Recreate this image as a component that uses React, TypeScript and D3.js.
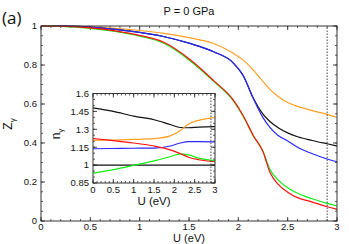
import React, { useEffect, useRef } from "react";
import * as d3 from "d3";

// main panel: Z_gamma vs U
const uMain = [0, 0.25, 0.5, 0.75, 1, 1.25, 1.5, 1.75, 1.95, 2.05, 2.15, 2.25, 2.32, 2.4, 2.5, 2.6, 2.75, 2.9, 3];
const zOrange = [1, 0.999, 0.996, 0.988, 0.977, 0.962, 0.94, 0.91, 0.86, 0.825, 0.775, 0.715, 0.675, 0.64, 0.608, 0.588, 0.566, 0.547, 0.532];
const zBlue = [1, 0.999, 0.994, 0.983, 0.967, 0.945, 0.912, 0.868, 0.81, 0.745, 0.63, 0.53, 0.48, 0.44, 0.41, 0.378, 0.345, 0.318, 0.304];
const zBlack = [1, 0.999, 0.994, 0.983, 0.967, 0.945, 0.912, 0.868, 0.81, 0.745, 0.632, 0.548, 0.51, 0.48, 0.452, 0.432, 0.413, 0.396, 0.385];
const zRed = [1, 0.998, 0.99, 0.975, 0.952, 0.915, 0.832, 0.72, 0.62, 0.54, 0.44, 0.355, 0.25, 0.19, 0.148, 0.12, 0.097, 0.073, 0.06];
const zGreen = [1, 0.997, 0.988, 0.972, 0.948, 0.91, 0.826, 0.716, 0.616, 0.536, 0.438, 0.358, 0.265, 0.212, 0.17, 0.142, 0.114, 0.09, 0.077];

// inset: n_gamma vs U
const uInset = [0, 0.5, 1, 1.5, 1.9, 2.15, 2.35, 2.6, 3];
const nBlack = [1.48, 1.45, 1.41, 1.38, 1.34, 1.315, 1.313, 1.318, 1.322];
const nOrange = [1.208, 1.21, 1.215, 1.222, 1.245, 1.29, 1.345, 1.375, 1.4];
const nRed = [1.223, 1.205, 1.185, 1.16, 1.128, 1.095, 1.066, 1.045, 1.028];
const nBlue = [1.137, 1.139, 1.141, 1.143, 1.16, 1.185, 1.196, 1.196, 1.195];
const nGreen = [0.932, 0.962, 0.998, 1.036, 1.07, 1.094, 1.085, 1.058, 1.037];
const nRef = 1;

const mainXTicks = [0, 0.5, 1, 1.5, 2, 2.5, 3];
const mainYTicks = [0, 0.2, 0.4, 0.6, 0.8, 1];
const insetXTicks = [0, 0.5, 1, 1.5, 2, 2.5, 3];
const insetYTicks = [0.85, 1, 1.15, 1.3, 1.45, 1.6];
const markU = 2.9;

const COLORS = { orange: "#ffa024", blue: "#2828ff", black: "#111111", red: "#ff1010", green: "#10ee10" };
const FONT = "'Liberation Sans', Arial, sans-serif";

const App: React.FC = () => {
    const svgRef = useRef<SVGSVGElement | null>(null);

    useEffect(() => {
        if (!svgRef.current) return;
        const svg = d3.select(svgRef.current);
        svg.selectAll("*").remove();

        const frame = "#333";

        const drawPanel = (
            x: d3.ScaleLinear<number, number>,
            y: d3.ScaleLinear<number, number>,
            xTicks: number[],
            yTicks: number[],
            xMinorStep: number,
            yMinorStep: number,
            fontSize: number,
            xLabelOffset: number,
        ) => {
            const [x0, x1] = x.range();
            const [y0, y1] = y.range();
            const g = svg.append("g");
            g.append("rect")
                .attr("x", x0).attr("y", y1).attr("width", x1 - x0).attr("height", y0 - y1)
                .attr("fill", "white").attr("stroke", "none");

            const [dx0, dx1] = x.domain();
            const [dy0, dy1] = y.domain();
            const xMinor = d3.range(dx0, dx1 + 1e-9, xMinorStep);
            const yMinor = d3.range(dy0, dy1 + 1e-9, yMinorStep);

            // minor ticks on all sides
            xMinor.forEach((v) => {
                g.append("line").attr("x1", x(v)).attr("x2", x(v)).attr("y1", y0).attr("y2", y0 - 2)
                    .attr("stroke", frame).attr("stroke-width", 0.8);
                g.append("line").attr("x1", x(v)).attr("x2", x(v)).attr("y1", y1).attr("y2", y1 + 2)
                    .attr("stroke", frame).attr("stroke-width", 0.8);
            });
            yMinor.forEach((v) => {
                g.append("line").attr("x1", x0).attr("x2", x0 + 2).attr("y1", y(v)).attr("y2", y(v))
                    .attr("stroke", frame).attr("stroke-width", 0.8);
                g.append("line").attr("x1", x1).attr("x2", x1 - 2).attr("y1", y(v)).attr("y2", y(v))
                    .attr("stroke", frame).attr("stroke-width", 0.8);
            });
            // major ticks + labels
            xTicks.forEach((v) => {
                g.append("line").attr("x1", x(v)).attr("x2", x(v)).attr("y1", y0).attr("y2", y0 - 4)
                    .attr("stroke", frame).attr("stroke-width", 0.9);
                g.append("line").attr("x1", x(v)).attr("x2", x(v)).attr("y1", y1).attr("y2", y1 + 4)
                    .attr("stroke", frame).attr("stroke-width", 0.9);
                g.append("text").attr("x", x(v)).attr("y", y0 + xLabelOffset)
                    .attr("text-anchor", "middle").attr("font-size", fontSize)
                    .attr("font-family", FONT).attr("fill", "#111").text(d3.format("~g")(v));
            });
            yTicks.forEach((v) => {
                g.append("line").attr("x1", x0).attr("x2", x0 + 4).attr("y1", y(v)).attr("y2", y(v))
                    .attr("stroke", frame).attr("stroke-width", 0.9);
                g.append("line").attr("x1", x1).attr("x2", x1 - 4).attr("y1", y(v)).attr("y2", y(v))
                    .attr("stroke", frame).attr("stroke-width", 0.9);
                g.append("text").attr("x", x0 - 4).attr("y", y(v)).attr("dy", "0.35em")
                    .attr("text-anchor", "end").attr("font-size", fontSize)
                    .attr("font-family", FONT).attr("fill", "#111").text(d3.format("~g")(v));
            });
            return g;
        };

        const drawCurves = (
            g: d3.Selection<SVGGElement, unknown, null, undefined>,
            x: d3.ScaleLinear<number, number>,
            y: d3.ScaleLinear<number, number>,
            us: number[],
            series: [number[], string][],
        ) => {
            const line = d3.line<number>()
                .x((_, i) => x(us[i]))
                .y((d) => y(d))
                .curve(d3.curveMonotoneX);
            series.forEach(([vals, col]) => {
                g.append("path").datum(vals)
                    .attr("fill", "none").attr("stroke", col).attr("stroke-width", 1.2)
                    .attr("d", line);
            });
        };

        const drawFrame = (
            g: d3.Selection<SVGGElement, unknown, null, undefined>,
            x: d3.ScaleLinear<number, number>,
            y: d3.ScaleLinear<number, number>,
        ) => {
            const [x0, x1] = x.range();
            const [y0, y1] = y.range();
            g.append("line").attr("x1", x(markU)).attr("x2", x(markU)).attr("y1", y0).attr("y2", y1)
                .attr("stroke", "#444").attr("stroke-width", 1).attr("stroke-dasharray", "1.5,1.5");
            g.append("rect")
                .attr("x", x0).attr("y", y1).attr("width", x1 - x0).attr("height", y0 - y1)
                .attr("fill", "none").attr("stroke", frame).attr("stroke-width", 1);
        };

        // ── main panel ──────────────────────────────────────────────
        const xM = d3.scaleLinear().domain([0, 3]).range([41, 337]);
        const yM = d3.scaleLinear().domain([0, 1]).range([221, 26]);
        const gM = drawPanel(xM, yM, mainXTicks, mainYTicks, 0.1, 0.05, 9.5, 8.5);
        drawCurves(gM, xM, yM, uMain, [
            [zOrange, COLORS.orange],
            [zBlack, COLORS.black],
            [zBlue, COLORS.blue],
            [zGreen, COLORS.green],
            [zRed, COLORS.red],
        ]);
        drawFrame(gM, xM, yM);

        // ── inset ───────────────────────────────────────────────────
        const xI = d3.scaleLinear().domain([0, 3]).range([93, 215]);
        const yI = d3.scaleLinear().domain([0.85, 1.6]).range([183, 93.5]);
        const gI = drawPanel(xI, yI, insetXTicks, insetYTicks, 0.1, 0.05, 9.5, 10);
        gI.append("line").attr("x1", xI(0)).attr("x2", xI(3)).attr("y1", yI(nRef)).attr("y2", yI(nRef))
            .attr("stroke", COLORS.black).attr("stroke-width", 1.2);
        drawCurves(gI, xI, yI, uInset, [
            [nBlack, COLORS.black],
            [nOrange, COLORS.orange],
            [nBlue, COLORS.blue],
            [nGreen, COLORS.green],
            [nRed, COLORS.red],
        ]);
        drawFrame(gI, xI, yI);

        // ── labels ──────────────────────────────────────────────────
        const label = (txt: string, xx: number, yy: number, size: number, anchor = "middle", font = FONT) =>
            svg.append("text").attr("x", xx).attr("y", yy).attr("font-size", size)
                .attr("font-family", font).attr("text-anchor", anchor).attr("fill", "#111").text(txt);

        label("(a)", 2, 24, 17, "start", "'Open Sans', sans-serif");
        label("P = 0 GPa", 189, 15, 11);
        label("U (eV)", 189, 242, 11);
        label("U (eV)", 154, 205, 11.5);

        const zLab = svg.append("text").attr("font-family", FONT).attr("font-size", 12).attr("fill", "#111")
            .attr("text-anchor", "middle").attr("transform", "translate(12,124) rotate(-90)");
        zLab.append("tspan").text("Z");
        zLab.append("tspan").attr("font-size", 8).attr("dy", 3).text("γ");

        const nLab = svg.append("text").attr("font-family", FONT).attr("font-size", 12).attr("fill", "#111")
            .attr("text-anchor", "middle").attr("transform", "translate(60,134) rotate(-90)");
        nLab.append("tspan").text("n");
        nLab.append("tspan").attr("font-size", 8).attr("dy", 3).text("γ");
    }, []);

    return (
        <svg
            ref={svgRef}
            width={349}
            height={244}
            style={{ position: "absolute", left: 0, top: 0, background: "white" }}
        />
    );
};

export default App;
